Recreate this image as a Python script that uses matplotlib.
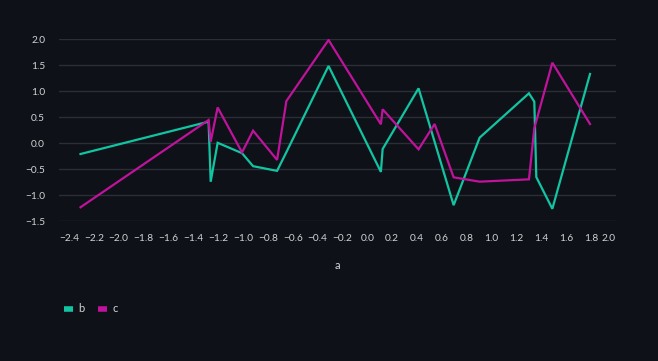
import matplotlib
matplotlib.use("Agg")
import matplotlib.pyplot as plt
from matplotlib.lines import Line2D
import numpy as np

# Data
a = [-2.307, -1.277, -1.26, -1.204, -1.008, -0.919, -0.726, -0.651, -0.312,
     0.109, 0.123, 0.412, 0.541, 0.694, 0.903, 1.300, 1.343, 1.359, 1.488, 1.791]
b = [-0.206, 0.416, -0.74, 0.01, -0.19, -0.44, -0.53, -0.17, 1.487,
     -0.55, -0.11, 1.057, 0.03, -1.19, 0.108, 0.961, 0.80, -0.65, -1.26, 1.333]
c = [-1.23, 0.448, 0.03, 0.69, -0.175, 0.243, -0.32, 0.813, 1.987,
     0.365, 0.654, -0.116, 0.371, -0.654, -0.738, -0.693, 0.29, 0.43, 1.55, 0.371]
series_names = ["b", "c"]
x_ticks = [round(v, 1) for v in np.arange(-2.4, 2.01, 0.2)]
y_ticks = [-1.5, -1.0, -0.5, 0.0, 0.5, 1.0, 1.5, 2.0]

BG = "#0e1117"
GRID = "#2b2e37"
TXT = "#d2d3d6"
COLORS = ["#12c4a2", "#c0139c"]

plt.rcParams["font.family"] = ["Lato", "DejaVu Sans"]

fig = plt.figure(figsize=(6.58, 3.61), dpi=100, facecolor=BG)
ax = fig.add_axes([59/658, 1-221.3/361, (616-59)/658, (221.3-39.3)/361])
ax.set_facecolor(BG)

ax.plot(a, b, color=COLORS[0], lw=1.6, solid_joinstyle="miter")
ax.plot(a, c, color=COLORS[1], lw=1.6, solid_joinstyle="miter")

ax.set_xlim(-2.48, 2.0)
ax.set_ylim(-1.5, 2.0)
ax.set_xticks(x_ticks)
ax.set_yticks(y_ticks)
ax.set_xticklabels([f"{v:.1f}".replace("-", "\u2212") for v in x_ticks])
ax.set_yticklabels([f"{v:.1f}".replace("-", "\u2212") for v in y_ticks])
ax.tick_params(axis="x", length=0, pad=9.5, labelsize=7.3, colors=TXT)
ax.tick_params(axis="y", length=0, pad=10, labelsize=7.3, colors=TXT)
ax.get_xticklabels()[-1].set_ha("right")
for s in ax.spines.values():
    s.set_visible(False)
ax.grid(axis="y", color=GRID, lw=1.0)
ax.grid(axis="x", visible=False)
ax.set_axisbelow(True)

ax.set_xlabel("a", color=TXT, fontsize=8, labelpad=12)

handles = [Line2D([], [], color=col, lw=4, solid_capstyle="butt") for col in COLORS]
fig.legend(handles, series_names, loc="center left",
           bbox_to_anchor=(64/658, 1-309/361), frameon=False,
           handlelength=0.8, handletextpad=0.5, columnspacing=1.2,
           ncol=2, labelcolor=TXT, fontsize=8, borderpad=0, borderaxespad=0)

fig.savefig("out.png", dpi=100, facecolor=BG)
